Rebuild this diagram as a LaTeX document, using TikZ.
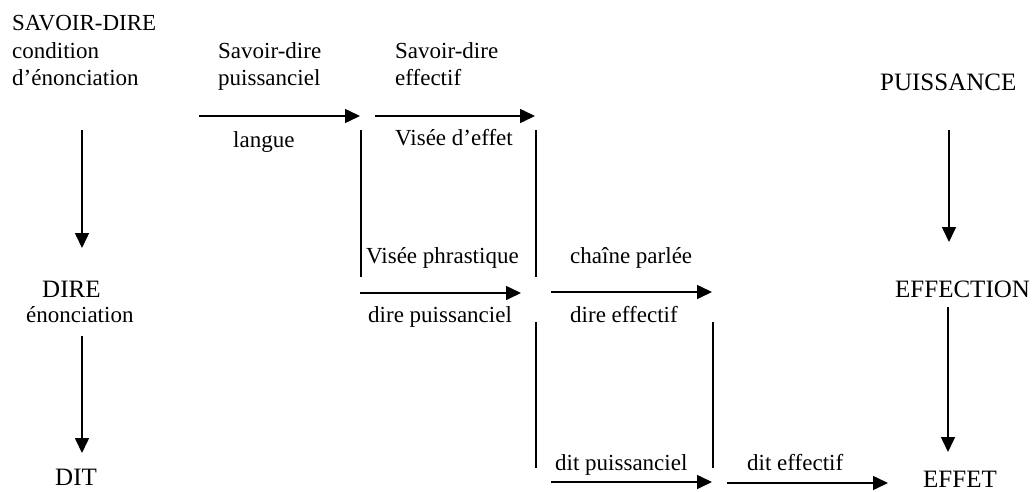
\documentclass[tikz,border=0pt]{standalone}
\usepackage{fontspec}
\setmainfont{Liberation Serif}
\usetikzlibrary{arrows.meta}
\begin{document}
\begin{tikzpicture}[x=1pt,y=-1pt,
  txt/.style={anchor=base west,inner sep=0pt,font=\fontsize{23}{27}\selectfont},
  big/.style={anchor=base west,inner sep=0pt,font=\fontsize{25}{29}\selectfont},
  arr/.style={line width=1.6pt,-{Triangle[length=15pt,width=14pt]}},
  ln/.style={line width=1.6pt}]
\useasboundingbox (0,0) rectangle (1036,491);
% left column
\node[txt] (sd1) at (12,30) {SAVOIR-DIRE};
\node[txt] (sd2) at (12,58) {condition};
\node[txt] (sd3) at (12,85) {d’énonciation};
\node[big] (dire) at (42,297) {DIRE};
\node[txt] (enon) at (26,322) {énonciation};
\node[big] (dit) at (55,485) {DIT};
% right column
\node[big] (puis) at (880,90) {PUISSANCE};
\node[big] (effection) at (895,297) {EFFECTION};
\node[big] (effet) at (923,487) {EFFET};
% middle labels
\node[txt] (sdp1) at (218,58) {Savoir-dire};
\node[txt] (sdp2) at (218,85) {puissanciel};
\node[txt] (sde1) at (395,58) {Savoir-dire};
\node[txt] (sde2) at (395,85) {effectif};
\node[txt] (langue) at (233,147) {langue};
\node[txt] (visee) at (395,145) {Visée d’effet};
\node[txt] (phras) at (366,263) {Visée phrastique};
\node[txt] (direp) at (368,322) {dire puissanciel};
\node[txt] (chaine) at (570,263) {chaîne parlée};
\node[txt] (diree) at (570,322) {dire effectif};
\node[txt] (ditp) at (555,470) {dit puissanciel};
\node[txt] (dite) at (747,470) {dit effectif};
% coordinates
\coordinate (v1s) at (82,130);  \coordinate (v1e) at (82,248);
\coordinate (v2s) at (82,336);  \coordinate (v2e) at (82,453);
\coordinate (v3s) at (949,130); \coordinate (v3e) at (949,242);
\coordinate (v4s) at (948,307); \coordinate (v4e) at (948,452);
\coordinate (h1s) at (199,116); \coordinate (h1e) at (360,116);
\coordinate (h2s) at (375,116); \coordinate (h2e) at (535,116);
\coordinate (h3s) at (360,293); \coordinate (h3e) at (521,293);
\coordinate (h4s) at (551,292); \coordinate (h4e) at (712,292);
\coordinate (h5s) at (551,482); \coordinate (h5e) at (712,482);
\coordinate (h6s) at (727,483); \coordinate (h6e) at (888,483);
\coordinate (l1s) at (361,130); \coordinate (l1e) at (361,277);
\coordinate (l2s) at (536,130); \coordinate (l2e) at (536,277);
\coordinate (l3s) at (536,322); \coordinate (l3e) at (536,468);
\coordinate (l4s) at (713,322); \coordinate (l4e) at (713,468);
% arrows
\draw[arr] (v1s) -- (v1e);
\draw[arr] (v2s) -- (v2e);
\draw[arr] (v3s) -- (v3e);
\draw[arr] (v4s) -- (v4e);
\draw[arr] (h1s) -- (h1e);
\draw[arr] (h2s) -- (h2e);
\draw[arr] (h3s) -- (h3e);
\draw[arr] (h4s) -- (h4e);
\draw[arr] (h5s) -- (h5e);
\draw[arr] (h6s) -- (h6e);
% lines
\draw[ln] (l1s) -- (l1e);
\draw[ln] (l2s) -- (l2e);
\draw[ln] (l3s) -- (l3e);
\draw[ln] (l4s) -- (l4e);
\end{tikzpicture}
\end{document}
